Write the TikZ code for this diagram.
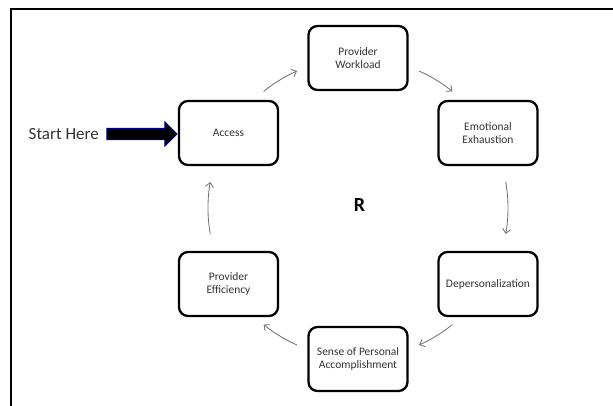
\documentclass[tikz,border=0pt]{standalone}
\usepackage{fontspec}
\setmainfont{Carlito}
\usetikzlibrary{arrows.meta,calc}
\begin{document}
\begin{tikzpicture}[x=1pt,y=-1pt,
  box/.style={draw=black, line width=2.3pt, rounded corners=9pt, minimum width=99pt, minimum height=64pt,
    align=center, font=\fontsize{11.5}{12.8}\selectfont, text=black!80, inner sep=1pt},
  cyc/.style={draw=black!55, line width=0.85pt, -{Straight Barb[length=4.5pt,width=8pt]}},
  bigarr/.style={fill=black, draw=blue!50!black, line width=1.1pt, line join=miter},
  frame/.style={draw=black, line width=2.2pt}
]
\useasboundingbox (0,0) rectangle (613,406);
\draw[frame] (11,406) -- (11,8.8) -- (613,8.8);

\node[box] (wl)  at (358,58)    {Provider\\Workload};
\node[box] (acc) at (228.5,133) {Access};
\node[box] (ee)  at (488,133)   {Emotional\\Exhaustion};
\node[box] (dp)  at (488,284)   {Depersonalization};
\node[box] (sp)  at (358,359)   {Sense of Personal\\Accomplishment};
\node[box] (pe)  at (228.5,284) {Provider\\Efficiency};

\node[font=\bfseries\fontsize{20}{24}\selectfont] (r) at (359.5,205) {R};
\node[anchor=west, font=\fontsize{17}{20}\selectfont, text=black!80, inner sep=0pt] (sh) at (28.5,134) {Start Here};

\coordinate (tip) at ($(acc.west)+(-1,1)$);
\draw[bigarr] (tip) -- ++(-12,-12) -- ++(0,6.5) -- ++(-58,0) -- ++(0,11) -- ++(58,0) -- ++(0,6.5) -- cycle;

\coordinate (C) at (358,208);
\draw[cyc] ([shift={(231:150)}]C) arc[start angle=231, end angle=246, radius=150];
\draw[cyc] ([shift={(294:150)}]C) arc[start angle=294, end angle=309, radius=150];
\draw[cyc] ([shift={(350:150)}]C) arc[start angle=350, end angle=370, radius=150];
\draw[cyc] ([shift={(51:150)}]C) arc[start angle=51, end angle=66, radius=150];
\draw[cyc] ([shift={(114:150)}]C) arc[start angle=114, end angle=129, radius=150];
\draw[cyc] ([shift={(170:150)}]C) arc[start angle=170, end angle=190, radius=150];
\end{tikzpicture}
\end{document}
